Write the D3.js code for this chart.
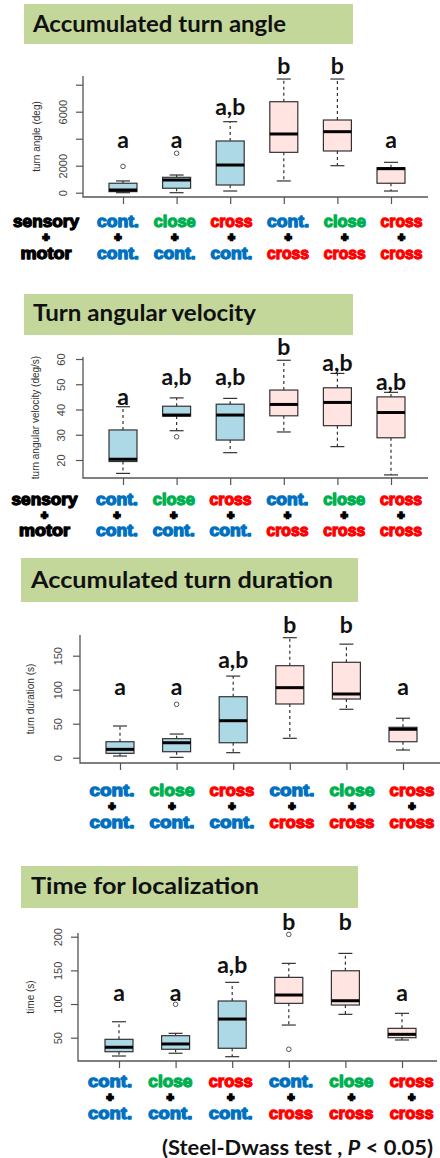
<!DOCTYPE html>
<html><head><meta charset="utf-8">
<script src="https://cdn.jsdelivr.net/npm/d3@7"></script>
<style>body{margin:0;background:#fff}svg{display:block}</style>
</head><body>
<svg id="chart" width="440" height="1158"></svg>
<script>
// ---------- categories ----------
const groupIndex = [1, 2, 3, 4, 5, 6];
const sensoryLabels = ["cont.", "close", "cross", "cont.", "close", "cross"];
const motorLabels = ["cont.", "cont.", "cont.", "cross", "cross", "cross"];

// ---------- Accumulated turn angle (deg) ----------
const angleMin = [0, 0, 125, 870, 2000, 125];
const angleQ1 = [80, 330, 570, 2990, 3090, 700];
const angleMedian = [200, 940, 2050, 4350, 4520, 1780];
const angleQ3 = [700, 1140, 3830, 6740, 5385, 1850];
const angleMax = [870, 1310, 5260, 8420, 8420, 2250];
const angleOutliers = [[1950], [2920], [], [], [], []];
const angleLetters = ["a", "a", "a,b", "b", "b", "a"];
const angleLetterY = [3900, 3900, 6370, 9390, 9390, 3900];
const angleTicks = [0, 2000, 4000, 6000, 8000];
const angleTickLabels = ["0", "2000", "", "6000", ""];

// ---------- Turn angular velocity (deg/s) ----------
const velMin = [14.7, 31.6, 22.9, 31.1, 25.3, 14.1];
const velQ1 = [19.4, 37.4, 27.9, 37.5, 33.6, 28.8];
const velMedian = [20.3, 37.8, 37.8, 42.0, 42.8, 38.8];
const velQ3 = [31.9, 41.3, 42.1, 47.7, 48.6, 45.0];
const velMax = [41.1, 44.6, 44.4, 59.5, 54.3, 46.8];
const velOutliers = [[], [29.2], [], [], [], []];
const velLetters = ["a", "a,b", "a,b", "b", "a,b", "a,b"];
const velLetterY = [45.1, 53.0, 53.0, 64.6, 58.5, 51.0];
const velTicks = [20, 30, 40, 50, 60];
const velTickLabels = ["20", "30", "40", "50", "60"];

// ---------- Accumulated turn duration (s) ----------
const durMin = [2.5, 0.5, 7.4, 28.5, 71.2, 11.3];
const durQ1 = [6.4, 8.8, 22.0, 79.0, 86.3, 23.5];
const durMedian = [12.3, 22.0, 54.4, 103.0, 93.7, 41.8];
const durQ3 = [23.5, 28.0, 89.7, 135.3, 140.3, 44.7];
const durMax = [46.6, 34.8, 120.0, 176.5, 167.0, 58.0];
const durOutliers = [[], [78.5], [], [], [], []];
const durLetters = ["a", "a", "a,b", "b", "b", "a"];
const durLetterY = [104, 104, 144, 195, 195, 104];
const durTicks = [0, 50, 100, 150];
const durTickLabels = ["0", "50", "100", "150"];

// ---------- Time for localization (s) ----------
const timeMin = [22.8, 26.9, 21.8, 68.8, 84.7, 46.6];
const timeQ1 = [29.2, 32.8, 34.3, 101.0, 98.5, 50.0];
const timeMedian = [35.8, 40.7, 77.7, 113.4, 104.9, 55.0];
const timeQ3 = [47.6, 53.0, 104.5, 139.6, 149.4, 63.9];
const timeMax = [73.7, 56.5, 132.2, 160.4, 175.2, 86.2];
const timeOutliers = [[], [99.6], [], [203.4, 32.8], [], []];
const timeLetters = ["a", "a", "a,b", "b", "b", "a"];
const timeLetterY = [116, 116, 158, 222, 222, 116];
const timeTicks = [50, 100, 150, 200];
const timeTickLabels = ["50", "100", "150", "200"];

// ---------- styles ----------
const labelColor = { "cont.": "#0070C0", "close": "#00B050", "cross": "#FF0000" };
const boxFill = { "cont.": "#ADD8E6", "cross": "#FFE4E1" };
const labFont = "'Liberation Sans', Arial, sans-serif";

const svg = d3.select("#chart");

// stacked "word / + / word" label, sized so line boxes do not collide
function labelColumn(g, cx, words, colors, L) {
  const F2 = 11;                                 // "+" size
  const T = L.rows[1] - L.rows[0];
  const F = (T - 1.2) / 1.117 - F2;              // word size
  const yPlus = L.rows[0] + 0.476 * F + 0.555 * F2 + 0.6;
  const word = (txt, col, yc, len) => {
    const t = g.append("text").attr("x", cx).attr("y", yc + 0.264 * F)
      .attr("text-anchor", "middle").attr("font-family", labFont).attr("font-weight", "bold")
      .attr("font-size", F).attr("fill", col).attr("stroke", col).attr("stroke-width", 1.3)
      .attr("stroke-linejoin", "round").text(txt);
    if (len) t.attr("textLength", len).attr("lengthAdjust", "spacingAndGlyphs");
  };
  word(words[0], colors[0], L.rows[0], words[3]);
  g.append("text").attr("x", cx).attr("y", yPlus + 0.35 * F2)
    .attr("text-anchor", "middle").attr("font-family", labFont).attr("font-weight", "bold")
    .attr("font-size", F2).attr("fill", "#000").attr("stroke", "#000").attr("stroke-width", 2.4)
    .attr("stroke-linejoin", "miter").attr("stroke-linecap", "butt")
    .text("+");
  word(words[2], colors[2], L.rows[1], words[4]);
}

function drawPanel(p, L) {
  const g = svg.append("g");
  g.append("rect").attr("x", L.box[0]).attr("y", L.box[1]).attr("width", L.box[2]).attr("height", L.box[3])
    .attr("fill", "#C4D79B");
  g.append("text").attr("x", L.titleX).attr("y", L.titleBase)
    .attr("font-family", "Lato, 'Open Sans', sans-serif").attr("font-weight", "bold")
    .attr("font-size", L.titleSize).attr("fill", "#111")
    .attr("textLength", L.titleLen).attr("lengthAdjust", "spacingAndGlyphs")
    .text(p.title);

  const x = d3.scaleLinear().domain([1, 6]).range([L.c1, L.c6]);
  const y = d3.scaleLinear().domain(L.yDomain).range(L.yRange);
  const bw = 28;

  g.append("path").attr("d", `M${L.fl},${L.ft}V${L.fb}H${L.fr}`)
    .attr("fill", "none").attr("stroke", "#555").attr("stroke-width", 1.3);

  const ya = g.append("g").attr("transform", `translate(${L.fl},0)`)
    .call(d3.axisLeft(y).tickValues(p.ticks).tickSize(7).tickFormat((d, i) => p.tickLabels[i]));
  ya.select(".domain").remove();
  ya.selectAll(".tick line").attr("stroke", "#555").attr("stroke-width", 1.2);
  ya.selectAll(".tick text").attr("x", 0).attr("dy", null).attr("y", L.tickX - L.fl + 4)
    .attr("transform", "rotate(-90)").attr("text-anchor", "middle")
    .attr("font-family", "'Liberation Sans', Arial, sans-serif").attr("font-size", 11).attr("fill", "#444");

  const xa = g.append("g").attr("transform", `translate(0,${L.fb})`)
    .call(d3.axisBottom(x).tickValues(groupIndex).tickSize(7).tickFormat(""));
  xa.select(".domain").remove();
  xa.selectAll(".tick line").attr("stroke", "#555").attr("stroke-width", 1.2);

  g.append("text").attr("transform", `translate(${L.yTitleX},${(L.ft + L.fb) / 2}) rotate(-90)`)
    .attr("text-anchor", "middle").attr("dy", "0.35em")
    .attr("font-family", "'Liberation Sans', Arial, sans-serif").attr("font-size", 10).attr("fill", "#333")
    .text(p.yTitle);

  groupIndex.forEach((gi, i) => {
    const cx = x(gi);
    const fill = boxFill[motorLabels[i]];
    const bg = g.append("g");
    bg.append("line").attr("x1", cx).attr("x2", cx).attr("y1", y(p.q3[i])).attr("y2", y(p.max[i]))
      .attr("stroke", "#333").attr("stroke-width", 1.2).attr("stroke-dasharray", "3,3");
    bg.append("line").attr("x1", cx).attr("x2", cx).attr("y1", y(p.q1[i])).attr("y2", y(p.min[i]))
      .attr("stroke", "#333").attr("stroke-width", 1.2).attr("stroke-dasharray", "3,3");
    [p.max[i], p.min[i]].forEach(v => {
      bg.append("line").attr("x1", cx - bw / 4).attr("x2", cx + bw / 4).attr("y1", y(v)).attr("y2", y(v))
        .attr("stroke", "#333").attr("stroke-width", 1.2);
    });
    bg.append("rect").attr("x", cx - bw / 2).attr("width", bw)
      .attr("y", y(p.q3[i])).attr("height", y(p.q1[i]) - y(p.q3[i]))
      .attr("fill", fill).attr("stroke", "#333").attr("stroke-width", 1.2);
    bg.append("line").attr("x1", cx - bw / 2).attr("x2", cx + bw / 2).attr("y1", y(p.med[i])).attr("y2", y(p.med[i]))
      .attr("stroke", "#000").attr("stroke-width", 3);
    p.out[i].forEach(v => {
      bg.append("circle").attr("cx", cx).attr("cy", y(v)).attr("r", 2.3)
        .attr("fill", "none").attr("stroke", "#555").attr("stroke-width", 1);
    });
    g.append("text").attr("x", cx).attr("y", y(p.letterY[i])).attr("dy", "0.35em")
      .attr("text-anchor", "middle").attr("font-family", "Lato, 'Open Sans', sans-serif")
      .attr("font-weight", "bold").attr("font-size", 23).attr("fill", "#111")
      .text(p.letters[i]);
  });

  const lx = d3.scaleLinear().domain([1, 6]).range([L.lx1, L.lx6]);
  groupIndex.forEach((gi, i) => {
    labelColumn(g, lx(gi), [sensoryLabels[i], "+", motorLabels[i], L.wordLen, L.wordLen],
      [labelColor[sensoryLabels[i]], "#000", labelColor[motorLabels[i]]], L);
  });
  if (L.sensoryX) {
    labelColumn(g, L.sensoryX, ["sensory", "+", "motor", 66, 51], ["#000", "#000", "#000"], L);
  }
}

drawPanel(
  { title: "Accumulated turn angle", yTitle: "turn angle (deg)",
    min: angleMin, q1: angleQ1, med: angleMedian, q3: angleQ3, max: angleMax, out: angleOutliers,
    letters: angleLetters, letterY: angleLetterY, ticks: angleTicks, tickLabels: angleTickLabels },
  { box: [24, 4, 329, 40], titleX: 33, titleBase: 32, titleSize: 23, titleLen: 253,
    fl: 83, fr: 428, ft: 76, fb: 197, c1: 123, c6: 391, yDomain: [0, 8000], yRange: [192.7, 84.7],
    tickX: 63, yTitleX: 36, rows: [223, 255], lx1: 118, lx6: 401.5, wordLen: 42, sensoryX: 46 });

drawPanel(
  { title: "Turn angular velocity", yTitle: "turn angular velocity (deg/s)",
    min: velMin, q1: velQ1, med: velMedian, q3: velQ3, max: velMax, out: velOutliers,
    letters: velLetters, letterY: velLetterY, ticks: velTicks, tickLabels: velTickLabels },
  { box: [24, 294, 329, 41], titleX: 33, titleBase: 321, titleSize: 23, titleLen: 223,
    fl: 83, fr: 428, ft: 357, fb: 478, c1: 123, c6: 391, yDomain: [20, 60], yRange: [460, 359],
    tickX: 61, yTitleX: 35, rows: [501, 532], lx1: 117, lx6: 401, wordLen: 42, sensoryX: 44.5 });

drawPanel(
  { title: "Accumulated turn duration", yTitle: "turn duration (s)",
    min: durMin, q1: durQ1, med: durMedian, q3: durQ3, max: durMax, out: durOutliers,
    letters: durLetters, letterY: durLetterY, ticks: durTicks, tickLabels: durTickLabels },
  { box: [21, 558, 337, 44], titleX: 31, titleBase: 588, titleSize: 23, titleLen: 302,
    fl: 80, fr: 440, ft: 635, fb: 763, c1: 120, c6: 403, yDomain: [0, 150], yRange: [757.7, 655.7],
    tickX: 58, yTitleX: 30, rows: [791.5, 823.5], lx1: 112, lx6: 412, wordLen: 45, sensoryX: null });

drawPanel(
  { title: "Time for localization", yTitle: "time (s)",
    min: timeMin, q1: timeQ1, med: timeMedian, q3: timeQ3, max: timeMax, out: timeOutliers,
    letters: timeLetters, letterY: timeLetterY, ticks: timeTicks, tickLabels: timeTickLabels },
  { box: [21, 866, 337, 42], titleX: 31, titleBase: 894, titleSize: 23, titleLen: 228,
    fl: 78, fr: 437, ft: 933, fb: 1061, c1: 119, c6: 402, yDomain: [50, 200], yRange: [1037.7, 936.7],
    tickX: 58, yTitleX: 30, rows: [1083, 1115], lx1: 110, lx6: 411.7, wordLen: 44, sensoryX: null });

const fn = svg.append("text").attr("x", 162).attr("y", 1155)
  .attr("font-family", "Lato, 'Open Sans', sans-serif").attr("font-weight", "bold")
  .attr("font-size", 21).attr("fill", "#111")
  .attr("textLength", 271).attr("lengthAdjust", "spacingAndGlyphs");
fn.append("tspan").text("(Steel-Dwass test , ");
fn.append("tspan").attr("font-style", "italic").text("P");
fn.append("tspan").text(" < 0.05)");
</script>
</body></html>
